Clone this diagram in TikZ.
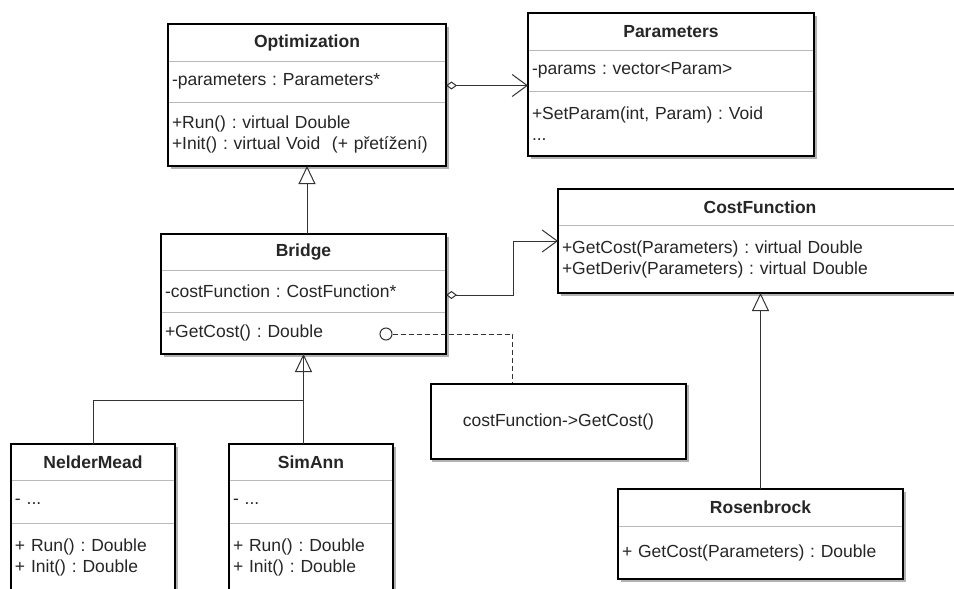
\documentclass[tikz,border=0pt]{standalone}
\usepackage{fontspec}
\setmainfont{Liberation Sans}
\usetikzlibrary{positioning,arrows.meta,calc,backgrounds}

\tikzstyle{classtitle} = [rectangle, draw=gray!55, fill=white, font=\fontsize{17.5}{21}\selectfont\bfseries, align=center,
inner xsep=4pt, inner ysep=0pt, outer sep=0pt]
\tikzstyle{classpart} = [rectangle, draw=gray!55, fill=white, align=left,
inner xsep=4pt, inner ysep=0pt, outer sep=0pt]
\tikzstyle{classbox} = [draw=black, line width=1.3pt]
\tikzstyle{shade} = [fill=black!30]
\tikzstyle{note} = [rectangle, draw=black, line width=2.5pt, fill=white, minimum width=255pt, minimum height=75pt]
\tikzstyle{link} = [draw=black!80, line width=1pt]
\tikzstyle{inherit} = [link, -{Triangle[open, length=18pt, width=17pt]}]
\tikzstyle{aggr} = [link, {Diamond[open, length=11pt, width=8pt]}-{Straight Barb[length=15pt, width=22pt]}]

\begin{document}
\begin{tikzpicture}[x=1pt, y=-1pt, font=\fontsize{17.5}{21}\selectfont\frenchspacing, text=black!85]
	\useasboundingbox (0,0) rectangle (954,589);

	% Optimization
	\node (optT) [classtitle, anchor=north west, text width=270pt, minimum height=37pt] at (168,24) {Optimization};
	\node (optA) [classpart, below=0pt of optT, text width=270pt, minimum height=41pt] {-parameters : Parameters*};
	\node (optM) [classpart, below=0pt of optA, text width=270pt, minimum height=64pt] {+Run() : virtual Double\\+Init() : virtual Void~ (+ přetížení)};

	% Parameters
	\node (parT) [classtitle, anchor=north west, text width=278pt, minimum height=37pt] at (528,13) {Parameters};
	\node (parA) [classpart, below=0pt of parT, text width=278pt, minimum height=41pt] {-params : vector<Param>};
	\node (parM) [classpart, below=0pt of parA, text width=278pt, minimum height=65pt] {+SetParam(int, Param) : Void\\...};

	% Bridge
	\node (brT) [classtitle, anchor=north west, text width=277pt, minimum height=36pt] at (161,234) {Bridge};
	\node (brA) [classpart, below=0pt of brT, text width=277pt, minimum height=42pt] {-costFunction : CostFunction*};
	\node (brM) [classpart, below=0pt of brA, text width=277pt, minimum height=42pt] {+GetCost() : Double};

	% CostFunction
	\node (cfT) [classtitle, anchor=north west, text width=396pt, minimum height=36pt] at (558,189) {CostFunction};
	\node (cfM) [classpart, below=0pt of cfT, text width=396pt, minimum height=68pt] {+GetCost(Parameters) : virtual Double\\+GetDeriv(Parameters) : virtual Double};

	% NelderMead
	\node (nmT) [classtitle, anchor=north west, text width=156pt, minimum height=36pt] at (11,444) {NelderMead};
	\node (nmA) [classpart, below=0pt of nmT, text width=156pt, minimum height=43pt] {- ...};
	\node (nmM) [classpart, below=0pt of nmA, text width=156pt, minimum height=68pt] {+ Run() : Double\\+ Init() : Double};

	% SimAnn
	\node (saT) [classtitle, right=54pt of nmT, text width=156pt, minimum height=36pt] {SimAnn};
	\node (saA) [classpart, below=0pt of saT, text width=156pt, minimum height=43pt] {- ...};
	\node (saM) [classpart, below=0pt of saA, text width=156pt, minimum height=68pt] {+ Run() : Double\\+ Init() : Double};

	% Rosenbrock
	\node (rbT) [classtitle, anchor=north west, text width=277pt, minimum height=37pt] at (618,489) {Rosenbrock};
	\node (rbM) [classpart, below=0pt of rbT, text width=277pt, minimum height=53pt] {+ GetCost(Parameters) : Double};

	% note
	\node (note) [note] at (558.5,421.5) {costFunction->GetCost()};

	% shadows behind the boxes
	\begin{scope}[on background layer]
		\fill [shade] ([shift={(3,3)}]optT.north west) rectangle ([shift={(3,3)}]optM.south east);
		\fill [shade] ([shift={(3,3)}]parT.north west) rectangle ([shift={(3,3)}]parM.south east);
		\fill [shade] ([shift={(3,3)}]brT.north west) rectangle ([shift={(3,3)}]brM.south east);
		\fill [shade] ([shift={(3,3)}]cfT.north west) rectangle ([shift={(3,3)}]cfM.south east);
		\fill [shade] ([shift={(3,3)}]nmT.north west) rectangle ([shift={(3,3)}]nmM.south east);
		\fill [shade] ([shift={(3,3)}]saT.north west) rectangle ([shift={(3,3)}]saM.south east);
		\fill [shade] ([shift={(3,3)}]rbT.north west) rectangle ([shift={(3,3)}]rbM.south east);
		\fill [shade] ([shift={(2,2)}]note.north west) rectangle ([shift={(2,2)}]note.south east);
	\end{scope}

	% outer frames
	\draw [classbox] (optT.north west) rectangle (optM.south east);
	\draw [classbox] (parT.north west) rectangle (parM.south east);
	\draw [classbox] (brT.north west) rectangle (brM.south east);
	\draw [classbox] (cfT.north west) rectangle (cfM.south east);
	\draw [classbox] (nmT.north west) rectangle (nmM.south east);
	\draw [classbox] (saT.north west) rectangle (saM.south east);
	\draw [classbox] (rbT.north west) rectangle (rbM.south east);

	\node (hook) [circle, draw=black!80, line width=1pt, fill=white, minimum size=12pt, inner sep=0pt] at (386,334) {};

	\draw [aggr] ([yshift=-4pt]optA.east) -- ([yshift=-4pt]optA.east -| parA.west);
	\draw [aggr] ([yshift=-4pt]brA.east) -- ++(67,0) |- ([yshift=18pt]cfM.west);
	\draw [inherit] (brT.north -| optM.south) -- (optM.south);
	\draw [link] (nmT.north) -- ++(0,-44) -| (brM.south);
	\draw [inherit] (saT.north -| brM.south) -- (brM.south);
	\draw [inherit] (rbT.north) -- (rbT.north |- cfM.south);
	\draw [link, dashed, dash pattern=on 5pt off 3pt] (hook.east) -| ($(note.north west)+(83,0)$);
\end{tikzpicture}
\end{document}
